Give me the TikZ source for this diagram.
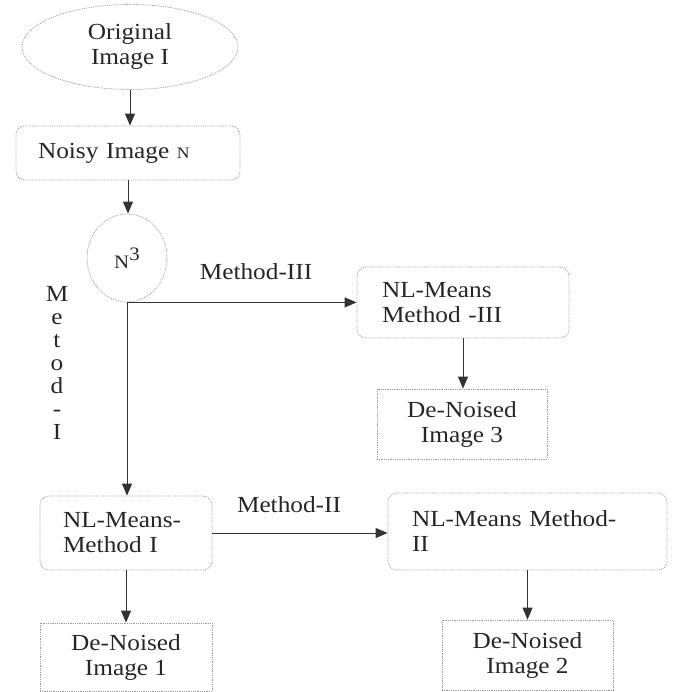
\documentclass[tikz,border=0pt]{standalone}
\usepackage{fontspec}
\setmainfont{Liberation Serif}[FakeStretch=1.1]
\usetikzlibrary{shapes.geometric,arrows.meta}
\begin{document}
\begin{tikzpicture}[x=1pt,y=-1pt,
  every node/.style={font=\fontsize{23}{25}\selectfont, text=black!85},
  dotbox/.style={draw=black!40, densely dotted, line width=0.8pt, inner sep=0pt},
  rbox/.style={dotbox, rounded corners=9pt, align=left},
  sbox/.style={dotbox, align=center},
  conn/.style={draw=black!80, line width=1pt, -{Triangle[length=12pt,width=10pt]}},
  lbl/.style={inner sep=0pt}]
\useasboundingbox (0,0) rectangle (690,692);

\node[dotbox, ellipse, minimum width=216pt, minimum height=85pt, align=center] (orig) at (130,47) {Original\\Image I};
\node[rbox, minimum width=224pt, minimum height=54pt, text width=180pt] (noisy) at (128,153) {Noisy Image {\fontsize{16}{16}\selectfont N}};
\node[dotbox, ellipse, minimum width=80pt, minimum height=88pt] (n3) at (127,258) {{\fontsize{19}{19}\selectfont N\raisebox{8pt}{3}}};
\node[rbox, minimum width=212pt, minimum height=71pt, text width=162pt] (m3) at (463,302.5) {NL-Means\\Method -III};
\node[sbox, minimum width=170pt, minimum height=70pt] (d3) at (462,424) {De-Noised\\Image 3};
\node[rbox, minimum width=172pt, minimum height=74pt, text width=126pt] (m1) at (126,533) {NL-Means-\\Method I};
\node[rbox, minimum width=279pt, minimum height=77pt, text width=231pt] (m2) at (527.5,531.5) {NL-Means Method-\\II};
\node[sbox, minimum width=172pt, minimum height=68pt] (d1) at (126,657) {De-Noised\\Image 1};
\node[sbox, minimum width=171pt, minimum height=70pt] (d2) at (527.5,655) {De-Noised\\Image 2};

\node[lbl] (l3) at (256,272) {Method-III};
\node[lbl] (l2) at (289,505) {Method-II};
\node[lbl, align=center, font=\fontsize{23}{23}\selectfont] (l1) at (57,363) {M\\e\\t\\o\\d\\-\\I};

\draw[conn] (orig.south) -- (orig.south |- noisy.north);
\draw[conn] (noisy.south) -- (noisy.south |- n3.north);
\draw[conn] (n3.south) -- (n3.south |- m1.north);
\draw[conn] (n3.south) -- (n3.south -| m3.west);
\draw[conn] (m3.south) -- (m3.south |- d3.north);
\draw[conn] (m1.east) -- (m1.east -| m2.west);
\draw[conn] (m1.south) -- (d1.north);
\draw[conn] (m2.south) -- (m2.south |- d2.north);
\end{tikzpicture}
\end{document}
